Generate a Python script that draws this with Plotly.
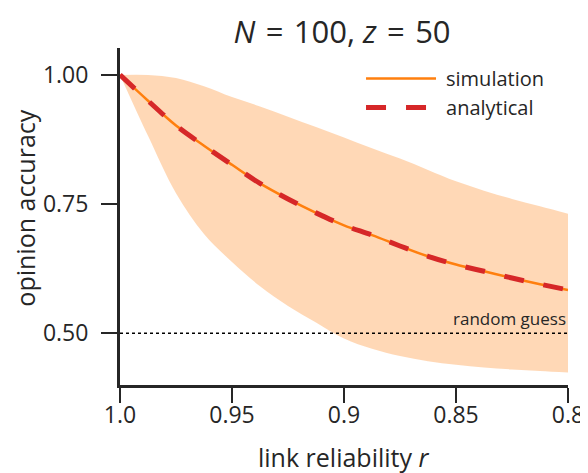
import plotly.graph_objects as go

r_values = [1.0, 0.9875, 0.975, 0.9625, 0.95, 0.9375, 0.925, 0.9125, 0.9,
            0.8875, 0.875, 0.8625, 0.85, 0.8375, 0.825, 0.8125, 0.8]
sim_mean = [1.0, 0.950, 0.902, 0.863, 0.826, 0.790, 0.760, 0.733, 0.709,
            0.690, 0.669, 0.649, 0.633, 0.620, 0.607, 0.595, 0.584]
sim_upper = [1.0, 1.0, 0.994, 0.978, 0.957, 0.939, 0.919, 0.899, 0.879,
             0.858, 0.838, 0.816, 0.794, 0.776, 0.760, 0.746, 0.7315]
sim_lower = [1.0, 0.882, 0.771, 0.692, 0.638, 0.591, 0.553, 0.521, 0.490,
             0.470, 0.456, 0.446, 0.439, 0.434, 0.430, 0.427, 0.424]
analytical = [1.0, 0.950, 0.902, 0.863, 0.826, 0.790, 0.760, 0.733, 0.709,
              0.690, 0.669, 0.649, 0.633, 0.620, 0.607, 0.595, 0.584]
x_ticks = [1.0, 0.95, 0.9, 0.85, 0.8]
x_ticklabels = ["1.0", "0.95", "0.9", "0.85", "0.8"]
y_ticks = [0.5, 0.75, 1.0]
y_ticklabels = ["0.50", "0.75", "1.00"]

FONT = "Open Sans"
TXT = "#262626"

fig = go.Figure()
fig.add_trace(go.Scatter(x=r_values, y=sim_upper, mode="lines",
                         line=dict(width=0, shape="spline"),
                         showlegend=False, hoverinfo="skip"))
fig.add_trace(go.Scatter(x=r_values, y=sim_lower, mode="lines",
                         line=dict(width=0, shape="spline"),
                         fill="tonexty", fillcolor="rgba(255,127,14,0.3)",
                         showlegend=False, hoverinfo="skip"))
fig.add_trace(go.Scatter(x=r_values, y=sim_mean, mode="lines", name="\u2005simulation",
                         legendgroup="a",
                         line=dict(color="#ff7f0e", width=2.5, shape="spline")))
fig.add_trace(go.Scatter(x=r_values, y=analytical, mode="lines", name="\u2005analytical",
                         legendgroup="b",
                         line=dict(color="#d62728", width=5, dash="20px,20px", shape="spline")))

fig.add_shape(type="line", xref="paper", x0=0, x1=1, yref="y", y0=0.5, y1=0.5,
              line=dict(color="black", width=1.5, dash="dot"))
fig.add_annotation(xref="paper", x=1.0, yref="y", y=0.5, text="random guess",
                   showarrow=False, xanchor="right", yanchor="bottom", yshift=1,
                   font=dict(family=FONT, size=17, color=TXT))

# axis titles
fig.add_annotation(xref="paper", x=0.5, yref="paper", y=-0.158, yanchor="top",
                   text="link reliability <i>r</i>", showarrow=False,
                   font=dict(family=FONT, size=25, color=TXT))
fig.add_annotation(xref="paper", x=-0.213, xanchor="center", yref="paper", y=0.525,
                   text="opinion accuracy", textangle=-90, showarrow=False, borderpad=0,
                   font=dict(family=FONT, size=25, color=TXT))

fig.update_layout(
    width=580, height=465,
    margin=dict(l=112, r=20, t=40, b=88, autoexpand=False),
    paper_bgcolor="white", plot_bgcolor="white",
    font=dict(family=FONT, color=TXT),
    title=dict(text="<i>N</i>\u2004=\u2004100, <i>z</i>\u2004=\u200450", x=0.576, xanchor="center",
               y=0.948, yanchor="middle", font=dict(family=FONT, size=31, color=TXT)),
    legend=dict(x=0.538, y=0.967, xanchor="left", yanchor="top", bgcolor="rgba(0,0,0,0)",
                font=dict(family=FONT, size=20, color=TXT), itemwidth=70,
                traceorder="normal", tracegroupgap=9),
    showlegend=True,
)
fig.update_xaxes(range=[1.0, 0.8], tickvals=x_ticks, ticktext=x_ticklabels,
                 showgrid=False, zeroline=False, showline=True, linecolor=TXT, linewidth=3,
                 ticks="outside", ticklen=15, tickwidth=2, tickcolor=TXT,
                 ticklabelstandoff=-8,
                 tickfont=dict(family=FONT, size=23, color=TXT), automargin=False)
fig.update_yaxes(range=[0.40, 1.052], tickvals=y_ticks, ticktext=y_ticklabels,
                 showgrid=False, zeroline=False, showline=True, linecolor=TXT, linewidth=3,
                 ticks="outside", ticklen=16, tickwidth=2, tickcolor=TXT,
                 ticklabelstandoff=8,
                 tickfont=dict(family=FONT, size=23, color=TXT), automargin=False)

fig.write_html("out.html")
